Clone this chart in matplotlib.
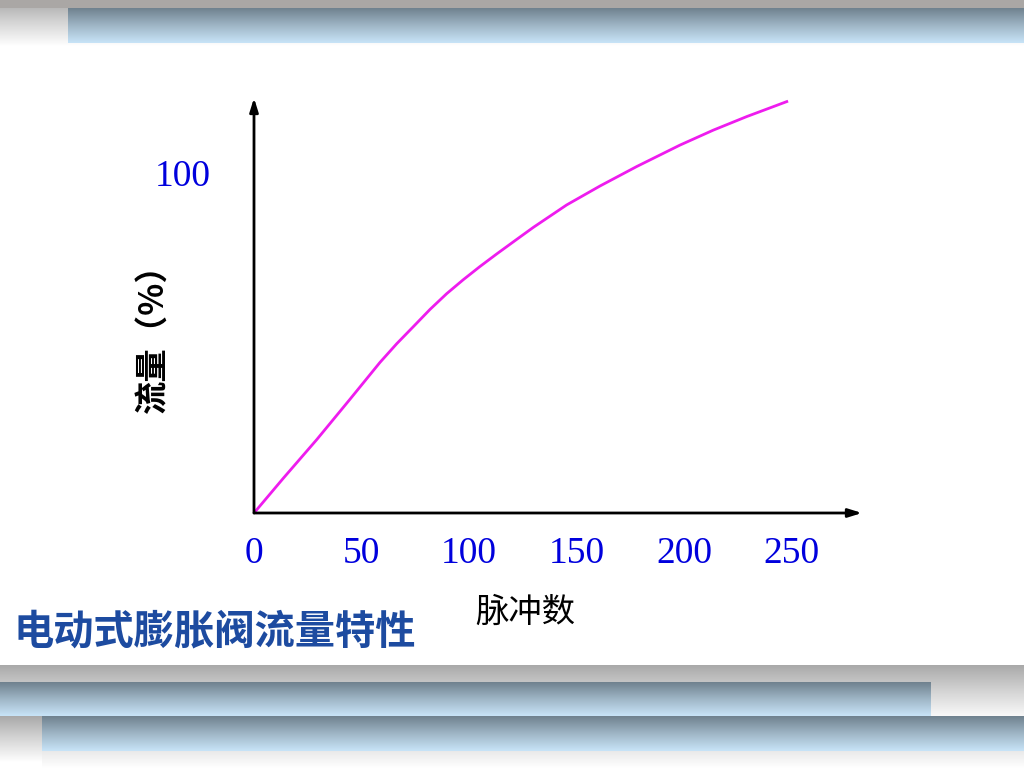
import numpy as np
import matplotlib
matplotlib.use("Agg")
import matplotlib.pyplot as plt
from matplotlib.colors import LinearSegmentedColormap

plt.rcParams['font.family'] = ['Noto Sans CJK SC', 'DejaVu Sans']

# 脉冲数 vs 流量(%)
pulses = [0, 13.6, 29.2, 44.7, 58.6, 66.4, 74.1, 81.9, 89.6, 97.3, 105.1,
          112.9, 122.9, 129.9, 145.4, 161, 178, 198.1, 213.6, 229.2, 247.8]
flow = [0, 10.2, 21.6, 33.5, 44.3, 49.8, 54.8, 59.9, 64.5, 68.6, 72.5,
        76.2, 80.8, 84.0, 90.6, 96.2, 101.9, 108.2, 112.6, 116.6, 121.0]
x_ticks = [0, 50, 100, 150, 200, 250]
y_ticks = [100]

title = "电动式膨胀阀流量特性"
xlabel = "脉冲数"
ylabel = "流量（%）"

W, H = 1024, 768
fig = plt.figure(figsize=(W / 100, H / 100), dpi=100)

# slide decoration in pixel coords
bg = fig.add_axes([0, 0, 1, 1], zorder=0)
bg.set_xlim(0, W)
bg.set_ylim(H, 0)
bg.axis("off")

grad = np.linspace(0, 1, 256).reshape(-1, 1)
bar_cmap = LinearSegmentedColormap.from_list("bar", ["#6f818e", "#9fb6c6", "#c8e4f8"])
gray_cmap = LinearSegmentedColormap.from_list("gray", ["#a9a9a9", "#d6d6d6", "#ffffff"])


def vgrad(x0, x1, y0, y1, cmap):
    bg.imshow(grad, cmap=cmap, extent=[x0, x1, y1, y0], aspect="auto",
              interpolation="bilinear")


# top
vgrad(0, W, 0, 46, gray_cmap)
bg.fill_between([0, W], 0, 8, color="#aaa7a5", lw=0)
vgrad(68, W, 8, 43, bar_cmap)
# bottom
vgrad(0, W, 665, 720, gray_cmap)
vgrad(0, 42, 716, 762, gray_cmap)
vgrad(42, W, 750, 768, LinearSegmentedColormap.from_list("g2", ["#e8e8e8", "#ffffff"]))
vgrad(0, 931, 682, 716, bar_cmap)
vgrad(42, W, 716, 751, bar_cmap)

# chart
x0, y0 = 254, 513
xscale, yscale = 2.15, 3.4
aw, ah = 862 - x0, y0 - 98
ax = fig.add_axes([x0 / W, 1 - y0 / H, aw / W, ah / H], zorder=1)
ax.set_facecolor("none")
ax.set_xlim(0, aw / xscale)
ax.set_ylim(0, ah / yscale)
for s in ax.spines.values():
    s.set_visible(False)

ax.plot(pulses, flow, color="#ee1cee", lw=2.0, solid_joinstyle="round")

arrow = dict(arrowstyle="-|>,head_length=0.8,head_width=0.25", color="black", lw=2.0,
             shrinkA=0, shrinkB=0)
ax.annotate("", xy=(1, 0), xytext=(0, 0), xycoords="axes fraction", arrowprops=arrow)
ax.annotate("", xy=(0, 1), xytext=(0, 0), xycoords="axes fraction", arrowprops=arrow)

ax.set_xticks(x_ticks)
ax.set_xticklabels([str(t) for t in x_ticks])
ax.set_yticks(y_ticks)
ax.set_yticklabels([str(t) for t in y_ticks])
ax.tick_params(length=0, labelsize=27, labelcolor="#0000dd")
ax.tick_params(axis="x", pad=17)
ax.tick_params(axis="y", pad=31)
for lab in ax.get_xticklabels() + ax.get_yticklabels():
    lab.set_family(["Liberation Serif"])

ax.set_xlabel(xlabel, fontsize=24)
ax.xaxis.set_label_coords((525 - x0) / aw, -(612 - y0) / ah)
ax.xaxis.label.set_va("center")
ax.set_ylabel(ylabel, fontsize=24, fontweight="bold")
ax.yaxis.set_label_coords((153 - x0) / aw, (y0 - 330) / ah)
ax.yaxis.label.set_va("center")

fig.text(14 / W, 1 - 632 / H, title, fontsize=29, color="#1d4ba0",
         fontweight="bold", va="center", ha="left")

fig.savefig("out.png", dpi=100)
